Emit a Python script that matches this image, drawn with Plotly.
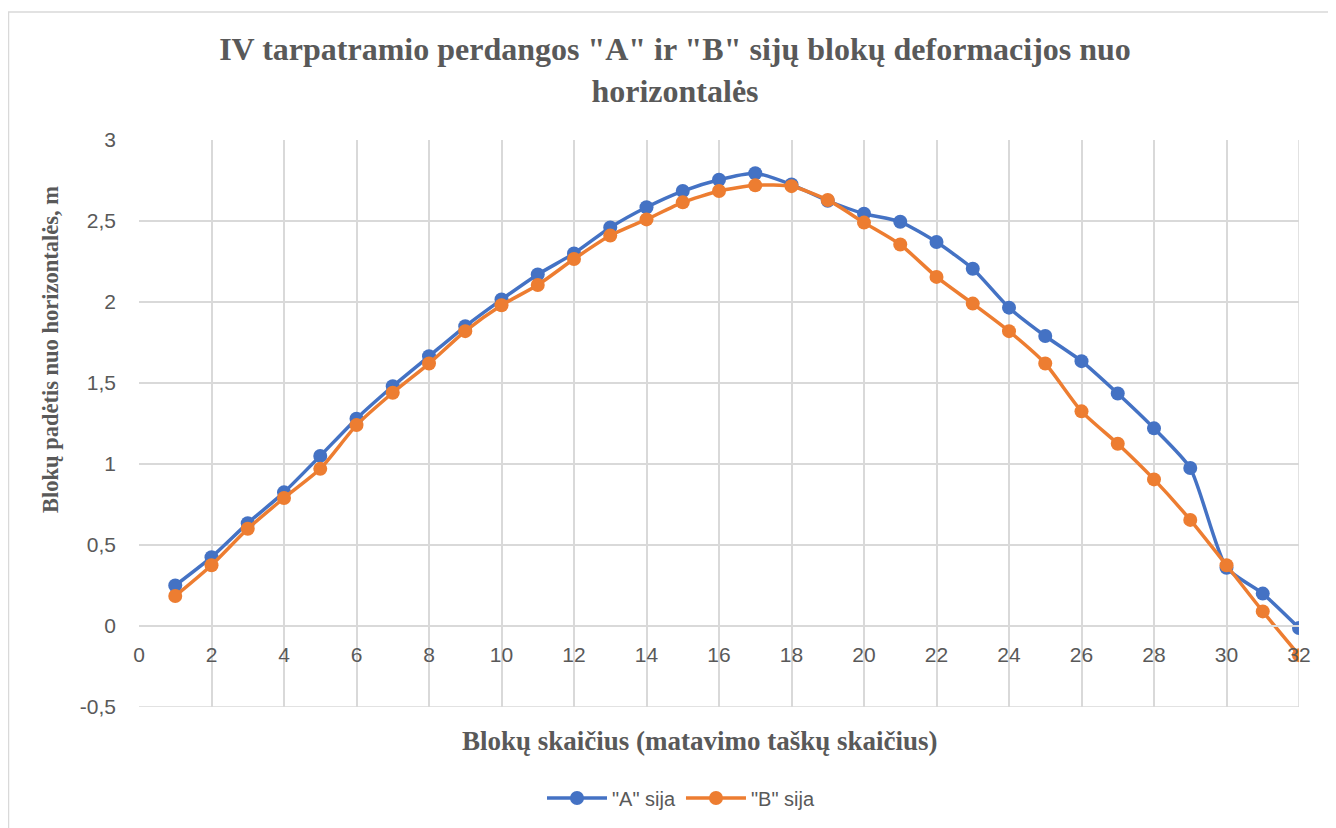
import plotly.graph_objects as go

blocks = list(range(1, 33))
beam_a = [0.25, 0.425, 0.635, 0.825, 1.05, 1.28, 1.48, 1.665, 1.85, 2.015, 2.17, 2.30,
          2.46, 2.585, 2.685, 2.755, 2.795, 2.725, 2.625, 2.545, 2.495, 2.37, 2.205, 1.965,
          1.79, 1.635, 1.435, 1.22, 0.975, 0.36, 0.20, -0.012]
beam_b = [0.185, 0.375, 0.60, 0.79, 0.97, 1.24, 1.44, 1.62, 1.82, 1.98, 2.105, 2.265,
          2.41, 2.51, 2.615, 2.685, 2.72, 2.715, 2.63, 2.49, 2.355, 2.155, 1.99, 1.82,
          1.62, 1.325, 1.125, 0.905, 0.655, 0.375, 0.09, -0.18]

title_text = '<b>IV tarpatramio perdangos "A" ir "B" sijų blokų deformacijos nuo<br>horizontalės</b>'
x_title = "<b>Blokų skaičius (matavimo taškų skaičius)</b>"
y_title = "<b>Blokų padėtis nuo horizontalės, m</b>"
x_ticks = list(range(0, 33, 2))
y_ticks = [-0.5, 0, 0.5, 1, 1.5, 2, 2.5, 3]
y_tick_labels = ["-0,5", "0", "0,5", "1", "1,5", "2", "2,5", "3"]

# page has an 8px body margin; coordinates below are in figure pixels
W, H = 1328, 820
L, R, T, B = 131, 37, 132, 121
pw, ph = W - L - R, H - T - B

fig = go.Figure()
fig.add_trace(go.Scatter(x=blocks, y=beam_a, mode="lines+markers", name='"A" sija',
                         line=dict(color="#4472C4", width=3.5, shape="spline", smoothing=0.6),
                         marker=dict(size=14, color="#4472C4")))
fig.add_trace(go.Scatter(x=blocks, y=beam_b, mode="lines+markers", name='"B" sija',
                         line=dict(color="#ED7D31", width=3.5, shape="spline", smoothing=0.6),
                         marker=dict(size=14, color="#ED7D31")))

grid = "#D9D9D9"
tickfont = dict(family="Liberation Sans, Arial", size=21, color="#595959")
serif = "Liberation Serif, Times New Roman"
ypos = 0.5 / 3.5

fig.update_layout(
    width=W, height=H,
    margin=dict(l=L, r=R, t=T, b=B),
    paper_bgcolor="white", plot_bgcolor="white",
    title=dict(text=title_text, x=667 / W, xref="container", xanchor="center",
               y=1 - 52 / H, yref="container", yanchor="middle",
               font=dict(family=serif, size=32, color="#595959")),
    xaxis=dict(range=[0, 32], tickvals=x_ticks, showgrid=True, gridcolor=grid, gridwidth=1.5,
               zeroline=False, showline=True, linecolor=grid, linewidth=1.5,
               anchor="free", position=ypos, ticks="", tickfont=tickfont,
               ticklabelstandoff=10),
    yaxis=dict(range=[-0.5, 3], tickvals=y_ticks, ticktext=y_tick_labels,
               showgrid=True, gridcolor=grid, gridwidth=1.5,
               zeroline=False, showline=False, ticks="", tickfont=tickfont,
               ticklabelstandoff=22),
    legend=dict(orientation="h", x=673 / W, xanchor="center", xref="container",
                y=1 - 790 / H, yref="container", yanchor="middle",
                font=dict(family="Liberation Sans, Arial", size=20, color="#595959"),
                itemwidth=60),
    showlegend=True,
)

fig.add_shape(type="line", xref="x", yref="y", x0=32, x1=32, y0=-0.5, y1=3,
              line=dict(color=grid, width=1.5), layer="below")
fig.add_shape(type="line", xref="x", yref="y", x0=0, x1=32, y0=-0.5, y1=-0.5,
              line=dict(color=grid, width=1.5), layer="below")

# outer chart border
fig.add_shape(type="rect", xref="paper", yref="paper",
              x0=(0.5 - L) / pw, x1=(W + 5 - L) / pw,
              y0=-(H + 5 - T - ph) / ph, y1=(H - B - 4) / ph,
              line=dict(color="#D9D9D9", width=1.5), fillcolor="rgba(0,0,0,0)", layer="below")

fig.add_annotation(text=x_title, xref="paper", yref="paper", showarrow=False,
                   x=(692 - L) / pw, y=-(733 - (T + ph)) / ph, xanchor="center", yanchor="middle",
                   font=dict(family=serif, size=27, color="#595959"))
fig.add_annotation(text=y_title, xref="paper", yref="paper", showarrow=False, textangle=-90,
                   x=(42 - L) / pw, y=(H - B - 342) / ph, xanchor="center", yanchor="middle",
                   font=dict(family=serif, size=22.5, color="#595959"))

fig.write_html("out.html")
